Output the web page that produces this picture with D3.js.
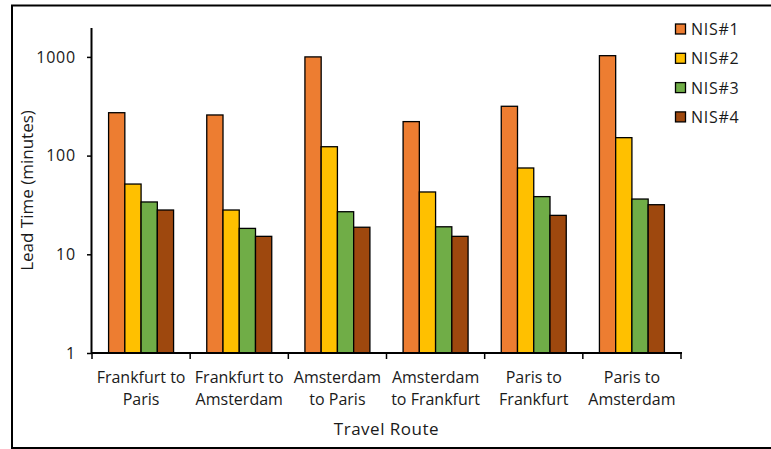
<!DOCTYPE html>
<html>
<head>
<meta charset="utf-8">
<script src="https://cdn.jsdelivr.net/npm/d3@7"></script>
<style>
  html, body { margin: 0; padding: 0; background: #fff; }
  svg { display: block; }
  text { font-family: "Open Sans", "Noto Sans", sans-serif; fill: #1a1a1a; }
</style>
</head>
<body>
<svg id="chart" width="771" height="449"></svg>
<script>
// Travel routes (two-line labels)
const routes = [
  ["Frankfurt to", "Paris"],
  ["Frankfurt to", "Amsterdam"],
  ["Amsterdam", "to Paris"],
  ["Amsterdam", "to Frankfurt"],
  ["Paris to", "Frankfurt"],
  ["Paris to", "Amsterdam"]
];
const seriesNames = ["NIS#1", "NIS#2", "NIS#3", "NIS#4"];
const seriesColors = ["#ED7D31", "#FFC000", "#70AD47", "#9E480E"];

// Lead time (minutes) per route, one array per series
const nis1 = [272, 258, 1000, 221, 316, 1029];
const nis2 = [51.5, 28.1, 123, 42.8, 74.9, 152];
const nis3 = [33.9, 18.3, 27, 19.0, 38.4, 36.3];
const nis4 = [28.1, 15.2, 18.8, 15.2, 24.8, 31.8];
const seriesValues = [nis1, nis2, nis3, nis4];

const yTicks = [1, 10, 100, 1000];

const svg = d3.select("#chart");

// outer frame
svg.append("rect")
  .attr("x", 12).attr("y", 5.5)
  .attr("width", 775).attr("height", 442.5)
  .attr("fill", "none").attr("stroke", "#000").attr("stroke-width", 2);

const plotL = 92, plotR = 681, plotT = 28, plotB = 353;

const x = d3.scaleBand().domain(d3.range(routes.length)).range([plotL, plotR]).padding(0);
const groupFrac = 0.662;
const xs = d3.scaleBand().domain(d3.range(seriesNames.length))
  .range([0, x.bandwidth() * groupFrac]).padding(0);
const groupOffset = x.bandwidth() * (1 - groupFrac) / 2;

// log axis: decade spacing fixed by 1..1000 ticks
const decade = 98.7;
const yMax = Math.pow(10, (plotB - plotT) / decade);
const y = d3.scaleLog().domain([1, yMax]).range([plotB, plotT]);

// bars
const rows = [];
routes.forEach((r, i) => seriesValues.forEach((vals, s) => rows.push({ i, s, v: vals[i] })));

svg.append("g").selectAll("rect")
  .data(rows).join("rect")
  .attr("x", d => x(d.i) + groupOffset + xs(d.s))
  .attr("y", d => y(d.v))
  .attr("width", xs.bandwidth())
  .attr("height", d => y(1) - y(d.v))
  .attr("fill", d => seriesColors[d.s])
  .attr("stroke", "#000").attr("stroke-width", 1.3);

// y axis
const yAxis = svg.append("g")
  .attr("transform", `translate(${plotL},0)`)
  .call(d3.axisLeft(y).tickValues(yTicks).tickFormat(d3.format("d")).tickSize(5).tickPadding(11));
yAxis.select(".domain").attr("d", `M-0.5,${plotB}V${plotT}`).attr("stroke", "#000").attr("stroke-width", 2);
yAxis.selectAll(".tick line").attr("stroke", "#000").attr("stroke-width", 1.5);
yAxis.selectAll(".tick text")
  .attr("font-size", 16).attr("letter-spacing", 0.8)
  .attr("font-family", "'Open Sans', sans-serif").attr("fill", "#1a1a1a");

// x axis with boundary ticks
const xAxisG = svg.append("g").attr("transform", `translate(0,${plotB})`);
xAxisG.append("line")
  .attr("x1", plotL - 0.5).attr("x2", plotR + 1).attr("y1", 0).attr("y2", 0)
  .attr("stroke", "#000").attr("stroke-width", 2);
const boundaries = d3.range(routes.length + 1).map(i => i < routes.length ? x(i) : x(routes.length - 1) + x.bandwidth());
xAxisG.selectAll("line.tk").data(boundaries).join("line")
  .attr("class", "tk")
  .attr("x1", d => d).attr("x2", d => d).attr("y1", 0).attr("y2", 6)
  .attr("stroke", "#000").attr("stroke-width", 1.5);

const labels = svg.append("g").selectAll("text")
  .data(routes).join("text")
  .attr("x", (d, i) => x(i) + x.bandwidth() / 2)
  .attr("y", 383)
  .attr("text-anchor", "middle")
  .attr("font-size", 16);
labels.each(function(d) {
  const t = d3.select(this);
  t.append("tspan").attr("x", t.attr("x")).attr("dy", 0).text(d[0]);
  t.append("tspan").attr("x", t.attr("x")).attr("dy", 22).text(d[1]);
});

// axis titles
svg.append("text")
  .attr("x", (plotL + plotR) / 2).attr("y", 435)
  .attr("text-anchor", "middle").attr("font-size", 17).attr("letter-spacing", 0.5)
  .text("Travel Route");

svg.append("text")
  .attr("transform", `translate(33,${(plotT + plotB) / 2}) rotate(-90)`)
  .attr("text-anchor", "middle").attr("font-size", 17)
  .text("Lead Time (minutes)");

// legend
const legend = svg.append("g").selectAll("g")
  .data(seriesNames).join("g")
  .attr("transform", (d, i) => `translate(675,${29 + i * 29.3})`);
legend.append("rect")
  .attr("x", 0.5).attr("y", -5).attr("width", 10).attr("height", 10)
  .attr("fill", (d, i) => seriesColors[i])
  .attr("stroke", "#000").attr("stroke-width", 1.3);
legend.append("text")
  .attr("x", 16).attr("y", 6)
  .attr("font-size", 16).attr("letter-spacing", 0.7)
  .text(d => d);
</script>
</body>
</html>
